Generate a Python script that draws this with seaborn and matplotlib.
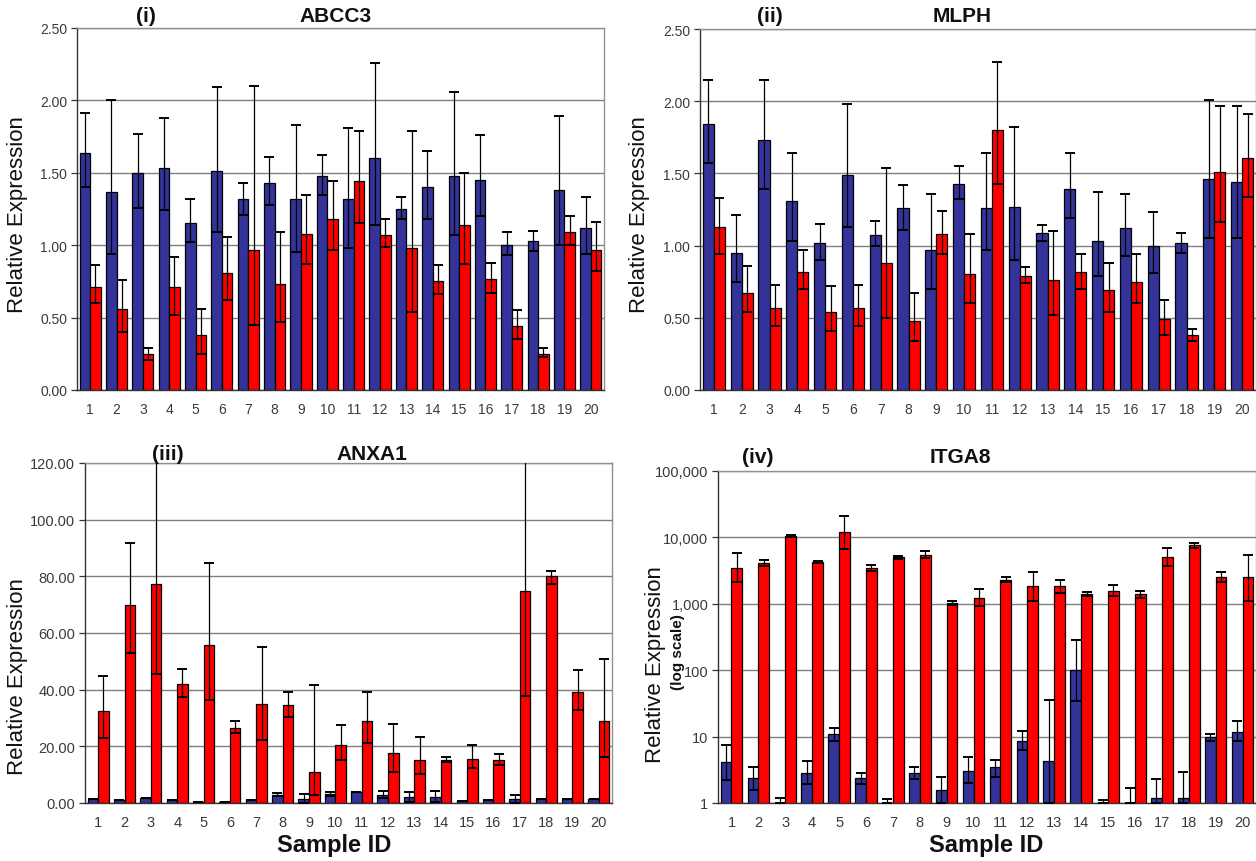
import numpy as np
import pandas as pd
import matplotlib
matplotlib.use('Agg')
import matplotlib.pyplot as plt
import seaborn as sns
from matplotlib.ticker import FixedLocator, FuncFormatter, NullLocator

samples = [str(i) for i in range(1, 21)]

# (i) ABCC3
abcc3_blue = [1.64, 1.37, 1.50, 1.53, 1.15, 1.51, 1.32, 1.43, 1.32, 1.48, 1.32, 1.60, 1.25, 1.40, 1.48, 1.45, 1.00, 1.03, 1.38, 1.12]
abcc3_blue_lo = [1.40, 0.94, 1.26, 1.24, 1.02, 1.09, 1.21, 1.28, 0.95, 1.35, 0.98, 1.14, 1.18, 1.18, 1.07, 1.20, 0.93, 0.96, 1.00, 0.94]
abcc3_blue_hi = [1.91, 2.00, 1.77, 1.88, 1.32, 2.09, 1.43, 1.61, 1.83, 1.62, 1.81, 2.26, 1.33, 1.65, 2.06, 1.76, 1.09, 1.10, 1.89, 1.33]
abcc3_red = [0.71, 0.56, 0.25, 0.71, 0.38, 0.81, 0.97, 0.73, 1.08, 1.18, 1.44, 1.07, 0.98, 0.75, 1.14, 0.77, 0.44, 0.25, 1.09, 0.97]
abcc3_red_lo = [0.60, 0.40, 0.21, 0.52, 0.25, 0.62, 0.45, 0.47, 0.87, 0.97, 1.15, 0.99, 0.54, 0.66, 0.87, 0.67, 0.35, 0.23, 1.00, 0.82]
abcc3_red_hi = [0.86, 0.76, 0.29, 0.92, 0.56, 1.06, 2.10, 1.09, 1.35, 1.44, 1.79, 1.18, 1.79, 0.86, 1.50, 0.88, 0.55, 0.29, 1.20, 1.16]

# (ii) MLPH
mlph_blue = [1.84, 0.95, 1.73, 1.31, 1.02, 1.49, 1.07, 1.26, 0.97, 1.43, 1.26, 1.27, 1.09, 1.39, 1.03, 1.12, 1.00, 1.02, 1.46, 1.44]
mlph_blue_lo = [1.57, 0.75, 1.39, 1.03, 0.90, 1.13, 1.00, 1.11, 0.70, 1.32, 0.97, 0.90, 1.03, 1.19, 0.79, 0.93, 0.81, 0.95, 1.05, 1.05]
mlph_blue_hi = [2.15, 1.21, 2.15, 1.64, 1.15, 1.98, 1.17, 1.42, 1.36, 1.55, 1.64, 1.82, 1.14, 1.64, 1.37, 1.36, 1.23, 1.09, 2.01, 1.97]
mlph_red = [1.13, 0.67, 0.57, 0.82, 0.54, 0.57, 0.88, 0.48, 1.08, 0.80, 1.80, 0.79, 0.76, 0.82, 0.69, 0.75, 0.49, 0.38, 1.51, 1.61]
mlph_red_lo = [0.94, 0.54, 0.44, 0.70, 0.41, 0.44, 0.50, 0.34, 0.94, 0.60, 1.43, 0.74, 0.52, 0.70, 0.54, 0.60, 0.38, 0.34, 1.16, 1.34]
mlph_red_hi = [1.33, 0.86, 0.73, 0.97, 0.72, 0.73, 1.54, 0.67, 1.24, 1.08, 2.27, 0.85, 1.10, 0.94, 0.88, 0.94, 0.62, 0.42, 1.97, 1.91]

# (iii) ANXA1
anxa1_blue = [1.5, 1.0, 1.8, 1.0, 0.5, 0.5, 1.0, 3.0, 1.4, 3.3, 4.0, 2.8, 2.0, 2.2, 0.6, 1.0, 1.4, 1.5, 1.5, 1.5]
anxa1_blue_lo = [1.5, 1.0, 1.8, 1.0, 0.5, 0.5, 1.0, 2.5, 0.0, 2.5, 4.0, 1.6, 0.5, 0.5, 0.6, 1.0, 0.0, 1.5, 1.5, 1.5]
anxa1_blue_hi = [1.5, 1.0, 1.8, 1.0, 0.5, 0.5, 1.0, 3.5, 3.1, 4.0, 4.0, 4.1, 3.8, 4.1, 0.6, 1.0, 2.8, 1.5, 1.5, 1.5]
anxa1_red = [32.3, 70.0, 77.4, 42.0, 55.6, 26.6, 35.0, 34.6, 11.1, 20.5, 28.9, 17.8, 15.3, 15.3, 15.7, 15.3, 74.9, 80.0, 39.3, 28.9]
anxa1_red_lo = [22.9, 52.9, 45.7, 37.3, 36.4, 24.7, 22.3, 30.5, 2.8, 15.3, 21.3, 11.1, 10.1, 14.4, 12.2, 13.4, 37.9, 77.4, 33.0, 16.1]
anxa1_red_hi = [44.8, 91.8, 140, 47.4, 84.8, 28.9, 55.0, 39.3, 41.5, 27.6, 39.3, 27.9, 23.2, 16.3, 20.5, 17.2, 140, 81.9, 46.8, 50.9]

# (iv) ITGA8 (log scale)
itga8_blue = [4.2, 2.35, 1.0, 2.8, 11, 2.35, 1.0, 2.8, 1.59, 3.07, 3.45, 8.5, 4.3, 101, 1.0, 1.0, 1.2, 1.2, 9.8, 11.9]
itga8_blue_lo = [2.25, 1.59, 1.0, 1.93, 8.7, 1.93, 1.0, 2.3, 1.0, 2.0, 2.5, 6.3, 1.0, 34, 1.0, 1.0, 1.0, 1.0, 8.7, 8.5]
itga8_blue_hi = [7.5, 3.45, 1.2, 4.3, 13.7, 2.86, 1.14, 3.5, 2.5, 4.9, 4.5, 12, 36, 283, 1.1, 1.66, 2.3, 2.9, 11, 17]
itga8_red = [3490, 4100, 10600, 4300, 12000, 3450, 5000, 5500, 1020, 1230, 2250, 1850, 1850, 1400, 1550, 1400, 5060, 7570, 2550, 2500]
itga8_red_lo = [2100, 3750, 10200, 4150, 6800, 3100, 4700, 4900, 950, 930, 2130, 1110, 1470, 1300, 1300, 1230, 3650, 7000, 2150, 1110]
itga8_red_hi = [5800, 4600, 10800, 4450, 21200, 3860, 5300, 6200, 1110, 1680, 2540, 3000, 2300, 1500, 1890, 1550, 6980, 8200, 3000, 5480]

sns.set_style('white')
plt.rcParams['font.family'] = ['Liberation Sans', 'DejaVu Sans']

W, H = 1256, 862
fig = plt.figure(figsize=(W / 100, H / 100), dpi=100)


def fx(x):
    return x / W


def fy(y):
    return 1 - y / H


def draw_panel(rect, blue, blue_lo, blue_hi, red, red_lo, red_hi, log=False, tick_size=10):
    l, t, r, b = rect
    ax = fig.add_axes([fx(l), fy(b), fx(r) - fx(l), fy(t) - fy(b)])
    df = pd.DataFrame({'sample': samples * 2,
                       'group': ['blue'] * 20 + ['red'] * 20,
                       'value': blue + red})
    sns.barplot(data=df, x='sample', y='value', hue='group',
                palette=['#333399', '#ff0000'], saturation=1, errorbar=None,
                width=0.8, edgecolor='black', linewidth=0.9, legend=False, ax=ax)
    for cont, mean, lo, hi in [(ax.containers[0], blue, blue_lo, blue_hi),
                               (ax.containers[1], red, red_lo, red_hi)]:
        xs = [p.get_x() + p.get_width() / 2 for p in cont]
        mean = np.array(mean)
        yerr = [mean - np.array(lo), np.array(hi) - mean]
        ax.errorbar(xs, mean, yerr=yerr, fmt='none', ecolor='black',
                    elinewidth=0.9, capsize=3.6, capthick=1.4, zorder=4)
    if log:
        ax.set_yscale('log')
        ax.set_ylim(1, 1e5)
        ax.yaxis.set_minor_locator(NullLocator())
        ax.yaxis.set_major_formatter(FuncFormatter(lambda v, p: f'{v:,.0f}'))
    else:
        ax.yaxis.set_major_formatter(FuncFormatter(lambda v, p: f'{v:.2f}'))
    ax.set_xlim(-0.5, 19.5)
    ax.set_xlabel('')
    ax.set_ylabel('')
    ax.set_axisbelow(True)
    ax.yaxis.grid(True, color='#808080', linewidth=1)
    ax.xaxis.grid(False)
    ax.xaxis.set_minor_locator(FixedLocator(np.arange(-0.5, 20, 1)))
    ax.tick_params(axis='x', which='major', length=0, pad=9, labelsize=tick_size, labelcolor='#3a3a3a')
    ax.tick_params(axis='x', which='minor', length=4, width=0.9, color='#333333', direction='out')
    ax.tick_params(axis='y', which='major', length=4, width=0.9, color='#333333', direction='out',
                   left=True, labelsize=tick_size, labelcolor='#3a3a3a', pad=3)
    for side in ['left', 'bottom']:
        ax.spines[side].set_color('#333333')
        ax.spines[side].set_linewidth(1)
    for side in ['top', 'right']:
        ax.spines[side].set_color('#909090')
        ax.spines[side].set_linewidth(1)
    return ax


ax1 = draw_panel((77, 29, 604, 391), abcc3_blue, abcc3_blue_lo, abcc3_blue_hi,
                 abcc3_red, abcc3_red_lo, abcc3_red_hi)
ax1.set_ylim(0, 2.5)
ax1.set_yticks(np.arange(0, 2.51, 0.5))

ax2 = draw_panel((700, 30, 1256, 391), mlph_blue, mlph_blue_lo, mlph_blue_hi,
                 mlph_red, mlph_red_lo, mlph_red_hi)
ax2.set_ylim(0, 2.5)
ax2.set_yticks(np.arange(0, 2.51, 0.5))

ax3 = draw_panel((85, 464, 612, 804), anxa1_blue, anxa1_blue_lo, anxa1_blue_hi,
                 anxa1_red, anxa1_red_lo, anxa1_red_hi, tick_size=10.5)
ax3.set_ylim(0, 120)
ax3.set_yticks(np.arange(0, 121, 20))

ax4 = draw_panel((718, 472, 1256, 804), itga8_blue, itga8_blue_lo, itga8_blue_hi,
                 itga8_red, itga8_red_lo, itga8_red_hi, log=True, tick_size=10.5)
ax4.set_yticks([1, 10, 100, 1000, 10000, 100000])

# panel titles
title_kw = dict(ha='center', va='center', fontsize=15, fontweight='bold', color='#111111')
fig.text(fx(146), fy(16), '(i)', **title_kw)
fig.text(fx(336), fy(16), 'ABCC3', **title_kw)
fig.text(fx(770), fy(16), '(ii)', **title_kw)
fig.text(fx(962), fy(16), 'MLPH', **title_kw)
fig.text(fx(168), fy(455), '(iii)', **title_kw)
fig.text(fx(372), fy(455), 'ANXA1', **title_kw)
fig.text(fx(758), fy(458), '(iv)', **title_kw)
fig.text(fx(960), fy(458), 'ITGA8', **title_kw)

# axis labels
ylab_kw = dict(ha='center', va='center', rotation=90, fontsize=16, color='#111111')
fig.text(fx(18), fy(215), 'Relative Expression', **ylab_kw)
fig.text(fx(639), fy(215), 'Relative Expression', **ylab_kw)
fig.text(fx(18), fy(677), 'Relative Expression', **ylab_kw)
fig.text(fx(656), fy(665), 'Relative Expression', **ylab_kw)
fig.text(fx(678), fy(652), '(log scale)', ha='center', va='center', rotation=90,
         fontsize=11, fontweight='bold', color='#111111')

xlab_kw = dict(ha='center', va='center', fontsize=17, fontweight='bold', color='#111111')
fig.text(fx(334), fy(846), 'Sample ID', **xlab_kw)
fig.text(fx(986), fy(846), 'Sample ID', **xlab_kw)

fig.savefig('out.png', dpi=100)
